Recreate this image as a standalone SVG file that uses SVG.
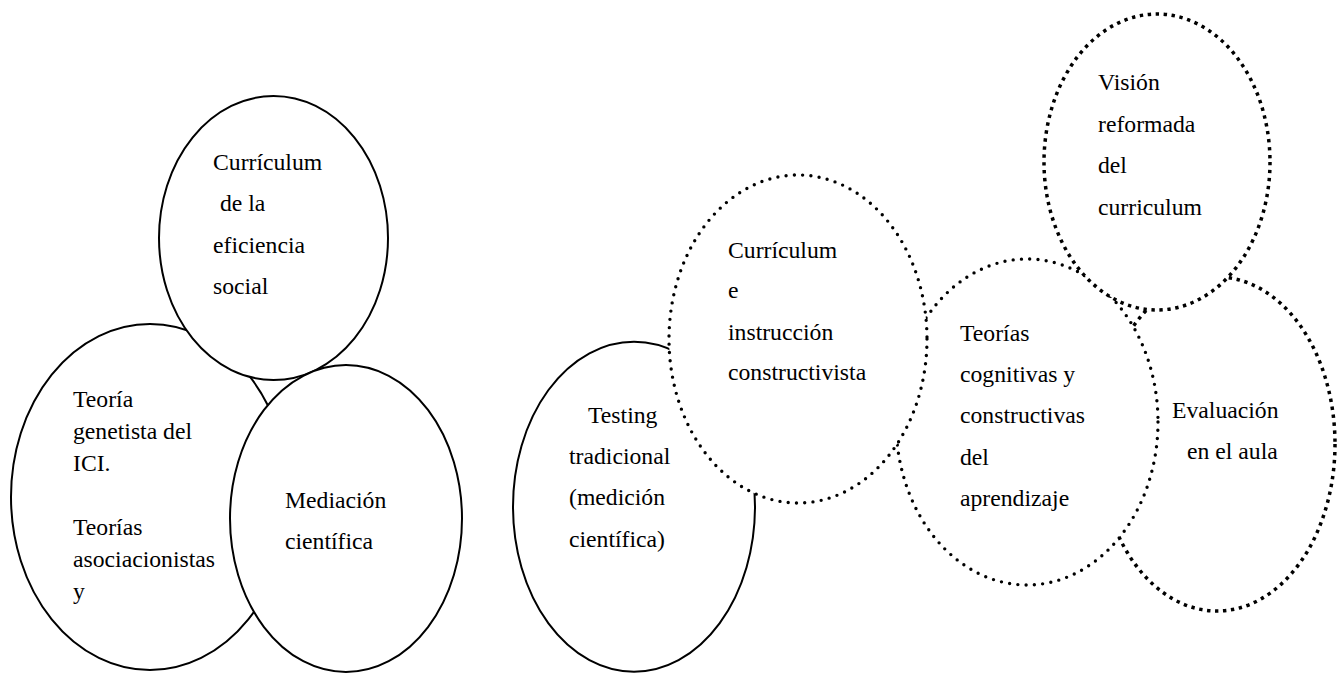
<svg xmlns="http://www.w3.org/2000/svg" width="1339" height="675" viewBox="0 0 1339 675">
<style>
  .solid { fill: #fff; stroke: #000; stroke-width: 2; }
  .rdot { fill: #fff; stroke: #000; stroke-width: 3.4; stroke-linecap: round; stroke-dasharray: 0 8.3; }
  .sdot { fill: #fff; stroke: #000; stroke-width: 3.5; stroke-linecap: butt; stroke-dasharray: 3.4 4.6; }
  text { font-family: "Liberation Serif", "Times New Roman", serif; font-size: 23.7px; fill: #000; }
</style>
<rect width="1339" height="675" fill="#fff"/>
<g id="teoria-genetista">
  <ellipse class="solid" cx="150" cy="497" rx="139" ry="173"/>
  <text x="73" y="407">Teoría</text>
  <text x="73" y="439">genetista del</text>
  <text x="73" y="471">ICI.</text>
  <text x="73" y="535">Teorías</text>
  <text x="73" y="567">asociacionistas</text>
  <text x="73" y="599">y</text>
</g>
<g id="curriculum-eficiencia">
  <ellipse class="solid" cx="273.5" cy="238" rx="114.5" ry="142"/>
  <text x="213" y="170">Currículum</text>
  <text x="220" y="211">de la</text>
  <text x="213" y="253">eficiencia</text>
  <text x="213" y="294">social</text>
</g>
<g id="mediacion">
  <ellipse class="solid" cx="346" cy="518.5" rx="116" ry="153.5"/>
  <text x="285" y="508">Mediación</text>
  <text x="285" y="549">científica</text>
</g>
<g id="testing">
  <ellipse class="solid" cx="634" cy="506.7" rx="121" ry="165"/>
  <text x="588" y="423">Testing</text>
  <text x="569" y="464">tradicional</text>
  <text x="569" y="505">(medición</text>
  <text x="569" y="547">científica)</text>
</g>
<g id="evaluacion">
  <ellipse class="sdot" cx="1217" cy="444" rx="118" ry="167"/>
  <text x="1172" y="418">Evaluación</text>
  <text x="1187" y="459">en el aula</text>
</g>
<g id="teorias-cognitivas">
  <ellipse class="rdot" cx="1027" cy="422" rx="131" ry="163"/>
  <text x="960" y="341">Teorías</text>
  <text x="960" y="382">cognitivas y</text>
  <text x="960" y="423">constructivas</text>
  <text x="960" y="465">del</text>
  <text x="960" y="506">aprendizaje</text>
</g>
<g id="vision">
  <ellipse class="sdot" cx="1157" cy="162" rx="113" ry="148"/>
  <text x="1098" y="90">Visión</text>
  <text x="1098" y="132">reformada</text>
  <text x="1098" y="173">del</text>
  <text x="1098" y="215">curriculum</text>
</g>
<g id="curriculum-instruccion">
  <ellipse class="rdot" cx="798" cy="339" rx="129" ry="164"/>
  <text x="728" y="258">Currículum</text>
  <text x="728" y="298">e</text>
  <text x="728" y="340">instrucción</text>
  <text x="728" y="380">constructivista</text>
</g>
<g id="connectors"></g>
</svg>
